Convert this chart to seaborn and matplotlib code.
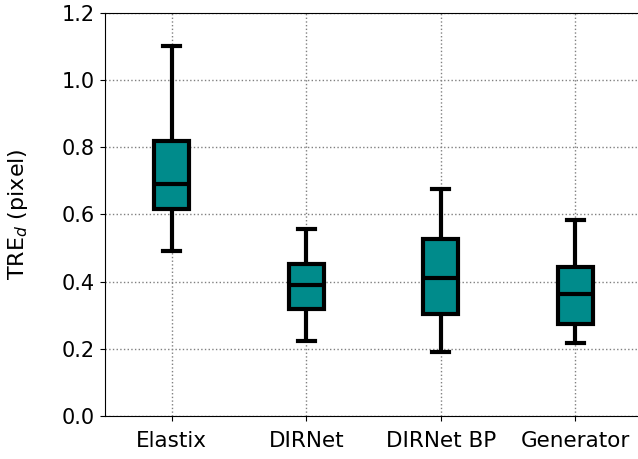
import numpy as np
import pandas as pd
import matplotlib
matplotlib.use("Agg")
import matplotlib.pyplot as plt
import seaborn as sns

methods = ["Elastix", "DIRNet", "DIRNet BP", "Generator"]
# five-number summaries: low whisker, Q1, median, Q3, high whisker
elastix = [0.491, 0.616, 0.690, 0.820, 1.102]
dirnet = [0.224, 0.318, 0.391, 0.454, 0.557]
dirnet_bp = [0.191, 0.304, 0.410, 0.527, 0.675]
generator = [0.218, 0.274, 0.363, 0.444, 0.583]
y_ticks = [0.0, 0.2, 0.4, 0.6, 0.8, 1.0, 1.2]

rows = []
for name, vals in zip(methods, [elastix, dirnet, dirnet_bp, generator]):
    for v in vals:
        rows.append({"method": name, "tre": v})
df = pd.DataFrame(rows)

plt.rcParams["font.family"] = ["DejaVu Sans"]
fig = plt.figure(figsize=(6.38, 4.59), dpi=100)
W, H = 638, 459
left, right, top, bottom = 104.5, 104.5 + 4 * 134.5, 13, 416
ax = fig.add_axes([left / W, (H - bottom) / H, (right - left) / W, (bottom - top) / H])

sns.boxplot(data=df, x="method", y="tre", order=methods, ax=ax,
            color="#008B8B", saturation=1, linecolor="black", linewidth=3,
            width=0.26, whis=np.inf, fliersize=0)

ax.set_xlim(-0.5, 3.5)
ax.set_ylim(0, 1.2)
ax.set_yticks(y_ticks)
ax.set_axisbelow(True)
ax.grid(True, linestyle=":", color="gray", linewidth=1)
ax.set_xlabel("")
ax.set_ylabel("TRE$_d$ (pixel)", fontsize=16)
ax.yaxis.set_label_coords(-0.138, 0.5)
ax.tick_params(axis="y", labelsize=15)
ax.tick_params(axis="x", labelsize=15.5, pad=7)

fig.savefig("out.png", dpi=100)
